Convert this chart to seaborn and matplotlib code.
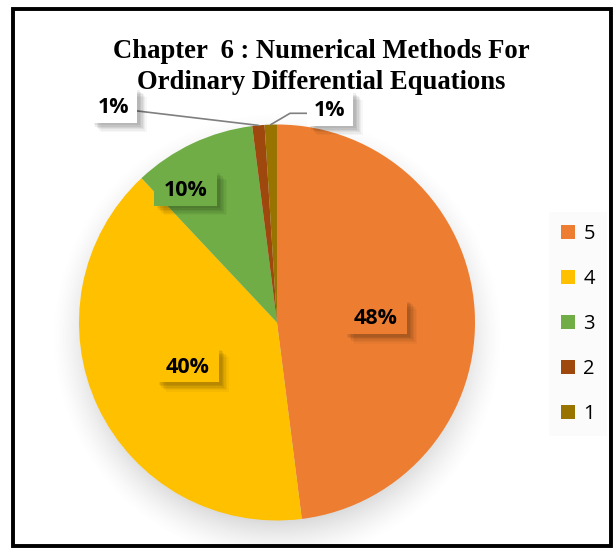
import numpy as np
import matplotlib
matplotlib.use("Agg")
import matplotlib.pyplot as plt
import seaborn as sns
from matplotlib.patches import Rectangle, Patch
from matplotlib import patheffects as pe

# Ratings and their share of responses
ratings = ["5", "4", "3", "2", "1"]
shares = [48, 40, 10, 1, 1]
pct_labels = ["48%", "40%", "10%", "1%", "1%"]
slice_colors = ["#ED7D31", "#FFC000", "#70AD47", "#9E480E", "#997300"]
title = "Chapter  6 : Numerical Methods For\nOrdinary Differential Equations"

sns.set_theme(style="white")
plt.rcParams["font.family"] = ["Open Sans", "DejaVu Sans"]
plt.rcParams["text.color"] = "black"
palette = sns.color_palette(slice_colors)

W, H = 613, 548
fig = plt.figure(figsize=(W / 100, H / 100), dpi=100)
ax = fig.add_axes([0, 0, 1, 1])

cx, cy, r = 277, H - 322.5, 198

wedges, _ = ax.pie(shares, colors=palette, startangle=90, counterclock=False,
                   center=(cx, cy), radius=r, wedgeprops=dict(linewidth=0))
for w in wedges:
    w.set_zorder(3)

# soft drop shadow under the pie
yy, xx = np.mgrid[0:H, 0:W]
d = np.hypot(xx - cx, (H - yy) - (cy - 14))
alpha = np.clip((r + 28 - d) / 46, 0, 1) ** 1.5 * 0.25
shadow = np.zeros((H, W, 4))
shadow[..., :3] = 0.35
shadow[..., 3] = alpha
ax.imshow(shadow, extent=(0, W, 0, H), origin="upper", zorder=1, aspect="auto")
ax.set_xlim(0, W)
ax.set_ylim(0, H)
ax.set_aspect("equal")
ax.axis("off")

box_shadow = [pe.SimplePatchShadow(offset=(o, -o), shadow_rgbFace="black", alpha=a)
              for o, a in [(7, 0.03), (6, 0.04), (5, 0.05), (4, 0.06),
                           (3, 0.07), (2, 0.06)]]
box_shadow.append(pe.Normal())


def boxed_label(x, y, text, face, w, h, fs=15.5):
    box = Rectangle((x - w / 2, y - h / 2), w, h, fc=face, ec="none", zorder=4)
    box.set_path_effects(box_shadow)
    ax.add_patch(box)
    ax.text(x, y, text, ha="center", va="center_baseline", fontsize=fs,
            fontweight="bold", color="black", zorder=5)


def mid_angle(w):
    return np.deg2rad((w.theta1 + w.theta2) / 2)


# labels inside the large slices
inner = {0: (0.50, 0), 1: (0.50, 0), 2: (0.82, 9)}
for i, (frac, turn) in inner.items():
    a = mid_angle(wedges[i]) + np.deg2rad(turn)
    boxed_label(cx + frac * r * np.cos(a), cy + frac * r * np.sin(a),
                pct_labels[i], slice_colors[i], 63, 35)

# callouts for the thin slices
callouts = {3: ((114, H - 105), (135, H - 110.7), None),
            4: ((330, H - 108), (308, H - 113.3), (290, H - 113.3))}
for i, (lab, start, knee) in callouts.items():
    a = mid_angle(wedges[i])
    tip = (cx + r * np.cos(a), cy + r * np.sin(a))
    pts = [start] + ([knee] if knee else []) + [tip]
    ax.plot([p[0] for p in pts], [p[1] for p in pts], color="#7f7f7f", lw=1.2, zorder=4)
    boxed_label(lab[0], lab[1], pct_labels[i], "white", 46, 35)

# outer frame
ax.add_patch(Rectangle((12.5, H - 546), 598, 537.5, fill=False, ec="black",
                       lw=2.8, zorder=6))

fig.text(321 / W, 1 - 67 / H, title, ha="center", va="center", fontsize=19.2,
         fontweight="bold", family=["Liberation Serif", "DejaVu Serif"],
         color="black", linespacing=1.28)

handles = [Patch(facecolor=c, edgecolor="none") for c in slice_colors]
leg = fig.legend(handles, ratings, loc="center left",
                 bbox_to_anchor=(539 / W, 1 - 324 / H), fontsize=14.5,
                 frameon=True, fancybox=False, handlelength=0.7,
                 handleheight=0.7, handletextpad=0.4, labelspacing=1.24,
                 borderpad=0.6)
leg.get_frame().set_facecolor("#fafafa")
leg.get_frame().set_edgecolor("none")
for t in leg.get_texts():
    t.set_color("black")

fig.savefig("out.png", dpi=100, facecolor="white")
